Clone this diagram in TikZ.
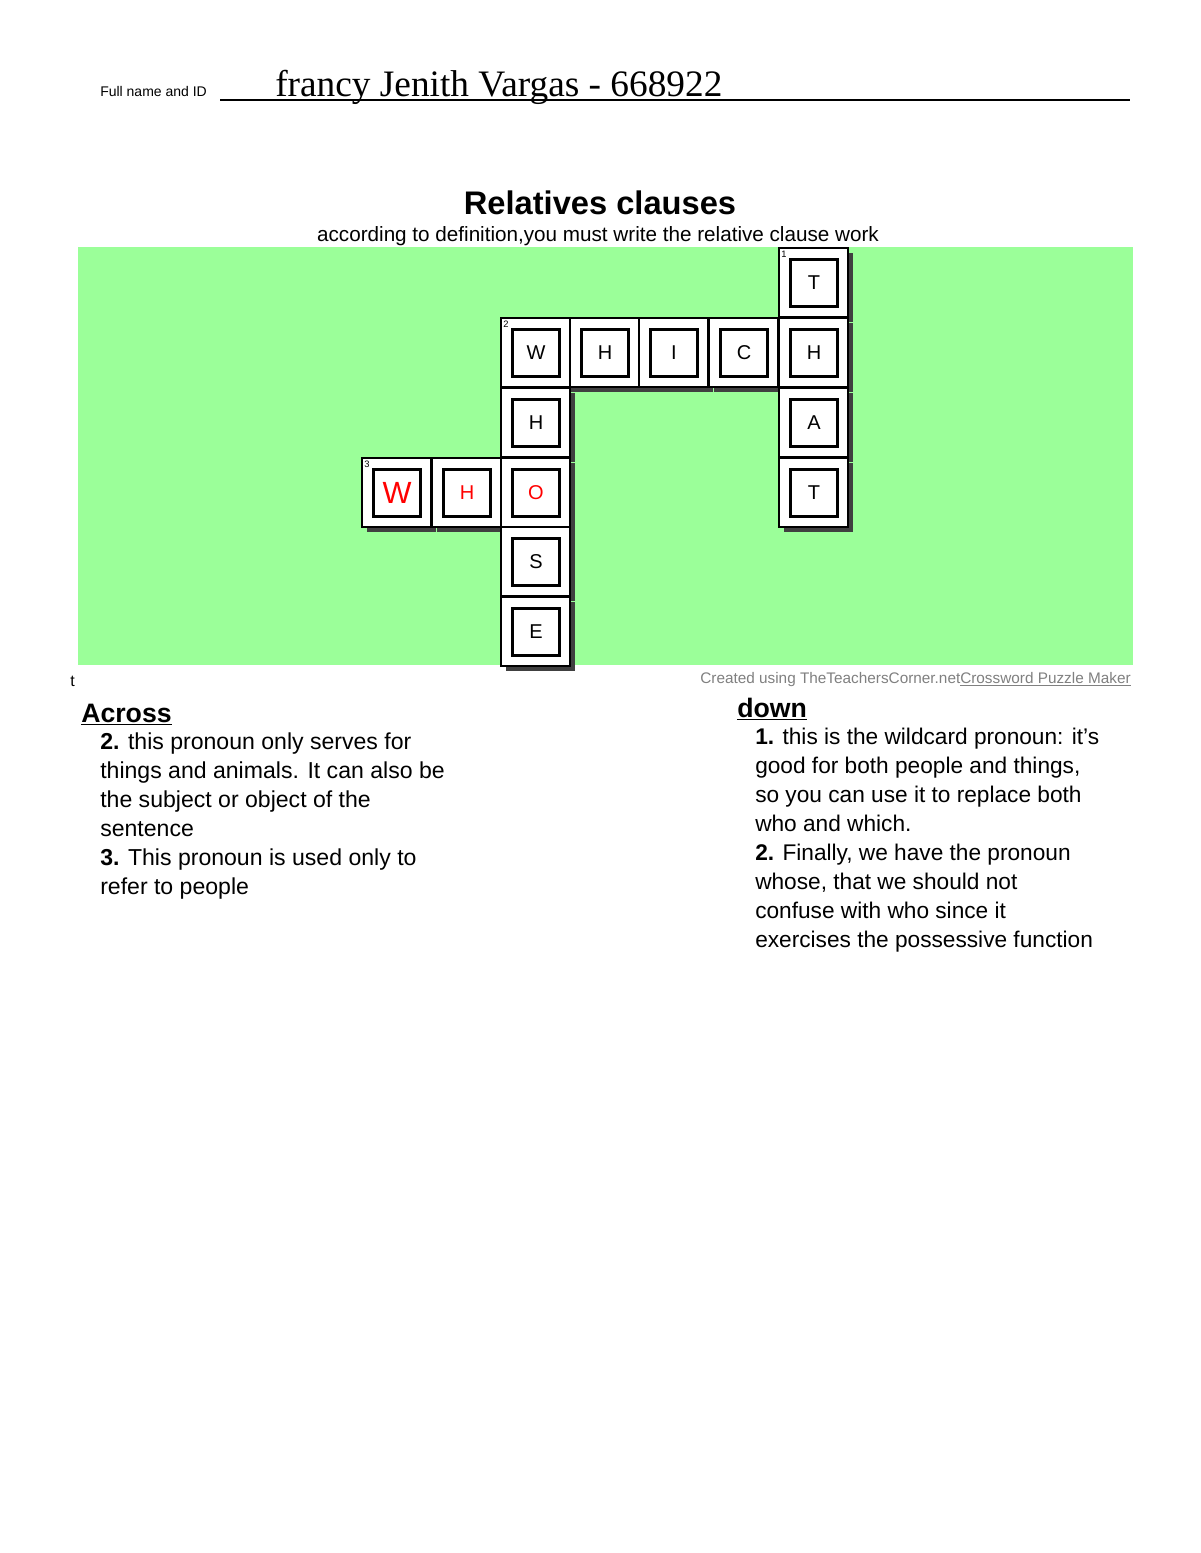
\documentclass[tikz,border=0pt]{standalone}
\usepackage{fontspec}
\setmainfont{Liberation Sans}
\newfontfamily\serifx{Liberation Serif}
\usepackage{xcolor}
\definecolor{grn}{HTML}{9BFF99}
\definecolor{shd}{HTML}{404040}
\begin{document}
\begin{tikzpicture}[x=0.75pt,y=-0.75pt,
  cellbox/.style={draw=black,line width=2pt,fill=white},
  inner/.style={draw=black,line width=2pt,fill=white,minimum size=35pt,inner sep=0pt}]
\useasboundingbox (0,0) rectangle (1200,1553);
\fill[white] (0,0) rectangle (1200,1553);
% header
\node[anchor=base west,inner sep=0pt,font=\fontsize{10.5}{12}\selectfont] (fn) at (100,96) {Full name and ID};
\draw[line width=1.2pt] (220,100) coordinate (l1) -- (1130,100) coordinate (l2);
\node[anchor=base west,inner sep=0pt,font=\serifx\fontsize{28}{32}\selectfont] (nm) at (275,96) {francy Jenith Vargas - 668922};
\node[font=\bfseries\fontsize{24.5}{28}\selectfont,anchor=base] (ti) at (600,214) {Relatives clauses};
\node[font=\fontsize{15.5}{18}\selectfont,anchor=base] (st) at (598,241) {according to definition,you must write the relative clause work};
\fill[grn] (78,247) rectangle (1133,665);
% cells
\foreach \x/\y/\L/\c/\s in {779/248/T/black/15, 501/318/W/black/15, 570/318/H/black/15, 639/318/I/black/15, 709/318/C/black/15, 779/318/H/black/15, 501/388/H/black/15, 779/388/A/black/15, 362/458/W/red/23, 432/458/H/red/15, 501/458/O/red/15, 779/458/T/black/15, 501/527/S/black/15, 501/597/E/black/15}{
  \fill[shd] (\x+5,\y+5) rectangle (\x+74,\y+74);
}
\foreach \x/\y/\L/\c/\s/\n in {779/248/T/black/15/1, 501/318/W/black/15/2, 570/318/H/black/15/, 639/318/I/black/15/, 709/318/C/black/15/, 779/318/H/black/15/, 501/388/H/black/15/, 779/388/A/black/15/, 362/458/W/red/23/3, 432/458/H/red/15/, 501/458/O/red/15/, 779/458/T/black/15/, 501/527/S/black/15/, 501/597/E/black/15/}{
  \draw[cellbox] (\x,\y) rectangle (\x+69,\y+69);
  \node[inner,text=\c,font=\fontsize{\s}{\s}\selectfont] (c\x-\y) at (\x+35,\y+35) {\L};
  \node[anchor=north west,inner sep=0pt,font=\fontsize{7}{8}\selectfont] (n\x-\y) at (\x+2,\y+3) {\n};
}
\node[anchor=base west,inner sep=0pt,font=\fontsize{12}{14}\selectfont] (tt) at (70,686) {t};
\node[anchor=base east,inner sep=0pt,text=gray,font=\fontsize{11.5}{13}\selectfont] (cr) at (1131,683) {Created using TheTeachersCorner.net\underline{Crossword Puzzle Maker}};
% clues
\node[anchor=base west,inner sep=0pt,font=\bfseries\fontsize{20}{24}\selectfont] (ac) at (81,722) {\underline{Across}};
\node[anchor=north west,inner sep=0pt,align=left,font=\fontsize{17.3}{21.75}\selectfont] (acl) at (100,733) {\textbf{2.} this pronoun only serves for\\ things and animals. It can also be\\ the subject or object of the\\ sentence\\ \textbf{3.} This pronoun is used only to\\ refer to people};
\node[anchor=base west,inner sep=0pt,font=\bfseries\fontsize{20}{24}\selectfont] (dn) at (737,717) {\underline{down}};
\node[anchor=north west,inner sep=0pt,align=left,font=\fontsize{17}{21.75}\selectfont] (dcl) at (755,728) {\textbf{1.} this is the wildcard pronoun: it's\\ good for both people and things,\\ so you can use it to replace both\\ who and which.\\ \textbf{2.} Finally, we have the pronoun\\ whose, that we should not\\ confuse with who since it\\ exercises the possessive function};
\end{tikzpicture}
\end{document}
